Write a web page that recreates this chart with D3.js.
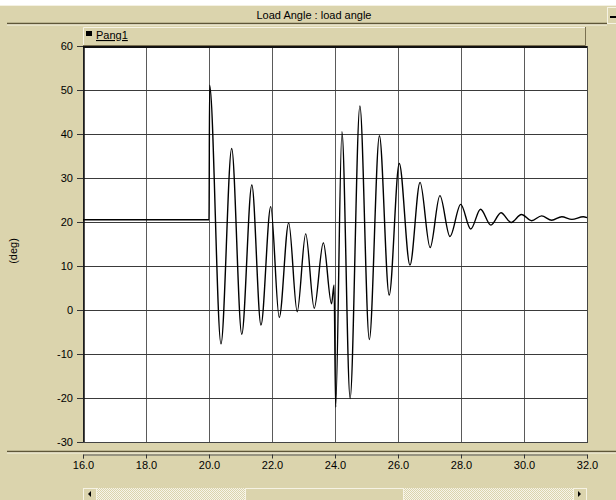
<!DOCTYPE html>
<html>
<head>
<meta charset="utf-8">
<script src="https://cdn.jsdelivr.net/npm/d3@7"></script>
<style>
  body { margin: 0; background: #ffffff; }
  svg { display: block; font-family: "Liberation Sans", Arial, sans-serif; }
</style>
</head>
<body>
<div class="chartContainer"></div>
<script>
// values (peaks / troughs of Pang1)
const times = [16.0, 20.0, 20.02, 20.38, 20.72, 21.04, 21.36, 21.65, 21.96, 22.23,
  22.53, 22.80, 23.07, 23.34, 23.63, 23.89, 23.97, 24.02, 24.22, 24.48,
  24.79, 25.09, 25.41, 25.72, 26.04, 26.38, 26.70, 27.02, 27.33, 27.65,
  27.99, 28.31, 28.62, 28.95, 29.27, 29.59, 29.92, 30.24, 30.56, 30.88,
  31.20, 31.52, 31.88, 32.0];
const angles = [20.5, 20.5, 51.1, -7.7, 36.7, -5.5, 28.4, -3.4, 23.5, -1.7,
  19.8, -0.4, 17.3, 0.4, 15.3, 1.4, 5.7, -22.1, 40.5, -20.1,
  46.4, -6.7, 39.6, 3.4, 33.3, 10.2, 29.0, 14.2, 26.0, 16.7,
  24.0, 18.4, 22.9, 19.3, 22.1, 19.9, 21.7, 20.3, 21.4, 20.4,
  21.2, 20.6, 21.2, 21.0];
const xTicks = [16, 18, 20, 22, 24, 26, 28, 30, 32];
const yTicks = [-30, -20, -10, 0, 10, 20, 30, 40, 50, 60];
const title = "Load Angle : load angle";
const seriesName = "Pang1";
const yLabel = "(deg)";

const w = 616;
const h = 500;
const plotLeft = 83, plotRight = 587, plotTop = 46, plotBottom = 442;
const face = "#dbd4ad";

const dataset = times.map((t, i) => [t, angles[i]]);

const svg = d3
  .select(".chartContainer")
  .append("svg")
  .attr("width", w)
  .attr("height", h);

svg.append("rect").attr("x", 0).attr("y", 5).attr("width", w).attr("height", h - 5).attr("fill", face);

// title bar
svg.append("line").attr("x1", 0).attr("x2", w).attr("y1", 5.5).attr("y2", 5.5).attr("stroke", "#f4f1e2");
svg.append("line").attr("x1", 7).attr("x2", 607).attr("y1", 23.5).attr("y2", 23.5).attr("stroke", "#5e5638").attr("stroke-width", 1.5);
svg.append("line").attr("x1", 7).attr("x2", 607).attr("y1", 25).attr("y2", 25).attr("stroke", "#f6f3e4");
svg.append("text")
  .attr("x", 314)
  .attr("y", 19)
  .attr("text-anchor", "middle")
  .attr("font-size", "11px")
  .attr("fill", "#000")
  .text(title);

// small "-" button at the right of the title bar
svg.append("rect").attr("x", 607.5).attr("y", 7.5).attr("width", 10).attr("height", 16).attr("fill", face).attr("stroke", "#f6f3e4");
svg.append("line").attr("x1", 610).attr("x2", 616).attr("y1", 17).attr("y2", 17).attr("stroke", "#000").attr("stroke-width", 2);

// legend bar
svg.append("rect").attr("x", plotLeft).attr("y", 27).attr("width", 502).attr("height", 18).attr("fill", face);
svg.append("path").attr("d", "M83.5,45V27.5H585").attr("fill", "none").attr("stroke", "#f6f3e4");
svg.append("path").attr("d", "M585.5,27V45.5H83").attr("fill", "none").attr("stroke", "#7a7050");
svg.append("rect").attr("x", 86).attr("y", 31).attr("width", 6).attr("height", 5).attr("fill", "#000");
svg.append("text")
  .attr("x", 96)
  .attr("y", 39)
  .attr("font-size", "11px")
  .attr("fill", "#000")
  .attr("text-decoration", "underline")
  .text(seriesName);

// scales
const xScale = d3.scaleLinear().domain([16, 32]).range([plotLeft, plotRight]);
const yScale = d3.scaleLinear().domain([-30, 60]).range([plotBottom, plotTop]);

// plot area
svg.append("rect")
  .attr("x", plotLeft)
  .attr("y", plotTop)
  .attr("width", plotRight - plotLeft)
  .attr("height", plotBottom - plotTop)
  .attr("fill", "#fff");

svg.append("g")
  .selectAll("line")
  .data(xTicks.slice(1, -1))
  .enter()
  .append("line")
  .attr("x1", (d) => Math.round(xScale(d)) + 0.5)
  .attr("x2", (d) => Math.round(xScale(d)) + 0.5)
  .attr("y1", plotTop)
  .attr("y2", plotBottom)
  .attr("stroke", "#5a5a5a");

svg.append("g")
  .selectAll("line")
  .data(yTicks.slice(1, -1))
  .enter()
  .append("line")
  .attr("x1", plotLeft)
  .attr("x2", plotRight)
  .attr("y1", (d) => Math.round(yScale(d)) + 0.5)
  .attr("y2", (d) => Math.round(yScale(d)) + 0.5)
  .attr("stroke", "#3a3a3a");

svg.append("rect")
  .attr("x", plotLeft + 0.5)
  .attr("y", plotTop + 0.5)
  .attr("width", plotRight - plotLeft)
  .attr("height", plotBottom - plotTop)
  .attr("fill", "none")
  .attr("stroke", "#444");
svg.append("line").attr("x1", plotLeft).attr("x2", plotRight).attr("y1", plotTop + 1).attr("y2", plotTop + 1).attr("stroke", "#111").attr("stroke-width", 2);
svg.append("line").attr("x1", plotLeft + 1).attr("x2", plotLeft + 1).attr("y1", plotTop).attr("y2", plotBottom).attr("stroke", "#111").attr("stroke-width", 1.5);

// trace
const line = d3
  .line()
  .x((d) => xScale(d[0]))
  .y((d) => yScale(d[1]))
  .curve(d3.curveMonotoneX);

svg.append("path")
  .datum(dataset)
  .attr("d", line)
  .attr("fill", "none")
  .attr("stroke", "#000")
  .attr("stroke-width", 1.4)
  .attr("stroke-linejoin", "round");

// y axis
const yAxis = d3.axisLeft(yScale).tickValues(yTicks).tickFormat((d) => String(d))
  .tickSize(6).tickSizeOuter(0).tickPadding(4);
const gy = svg.append("g")
  .attr("transform", "translate(" + plotLeft + ",0)")
  .call(yAxis);
gy.select(".domain").remove();
gy.selectAll("line").attr("stroke", "#333");
gy.selectAll("text").attr("font-size", "11px").attr("fill", "#000").attr("font-family", "Liberation Sans, Arial, sans-serif");

svg.append("text")
  .attr("transform", "translate(17,251) rotate(-90)")
  .attr("text-anchor", "middle")
  .attr("font-size", "11px")
  .attr("fill", "#000")
  .text(yLabel);

// separator above x axis
svg.append("line").attr("x1", 7).attr("x2", w).attr("y1", 451.5).attr("y2", 451.5).attr("stroke", "#5e5638").attr("stroke-width", 1.5);
svg.append("line").attr("x1", 7).attr("x2", w).attr("y1", 453).attr("y2", 453).attr("stroke", "#f6f3e4");

// x axis
const xAxis = d3.axisBottom(xScale).tickValues(xTicks).tickFormat(d3.format(".1f")).tickSize(4).tickPadding(3);
const gx = svg.append("g")
  .attr("transform", "translate(0,454.5)")
  .call(xAxis);
gx.select(".domain").attr("stroke", "#555");
gx.selectAll("line").attr("stroke", "#333");
gx.selectAll("text").attr("font-size", "11px").attr("fill", "#000").attr("font-family", "Liberation Sans, Arial, sans-serif");

// scrollbar
const defs = svg.append("defs");
const pat = defs.append("pattern")
  .attr("id", "hatch")
  .attr("width", 2)
  .attr("height", 2)
  .attr("patternUnits", "userSpaceOnUse");
pat.append("rect").attr("width", 2).attr("height", 2).attr("fill", "#f7f5ea");
pat.append("rect").attr("width", 1).attr("height", 1).attr("fill", face);
pat.append("rect").attr("x", 1).attr("y", 1).attr("width", 1).attr("height", 1).attr("fill", face);

svg.append("rect").attr("x", 95).attr("y", 488).attr("width", 478).attr("height", 12).attr("fill", "url(#hatch)");
svg.append("rect").attr("x", 245.5).attr("y", 488.5).attr("width", 158).attr("height", 12).attr("fill", face).attr("stroke", "#f6f3e4");

[[83, "M91,491L88,494L91,497Z"], [573, "M578,491L581,494L578,497Z"]].forEach((b) => {
  svg.append("rect").attr("x", b[0] + 0.5).attr("y", 488.5).attr("width", 13).attr("height", 12).attr("fill", face).attr("stroke", "#f6f3e4");
  svg.append("path").attr("d", b[1]).attr("fill", "#000");
});
</script>
</body>
</html>
